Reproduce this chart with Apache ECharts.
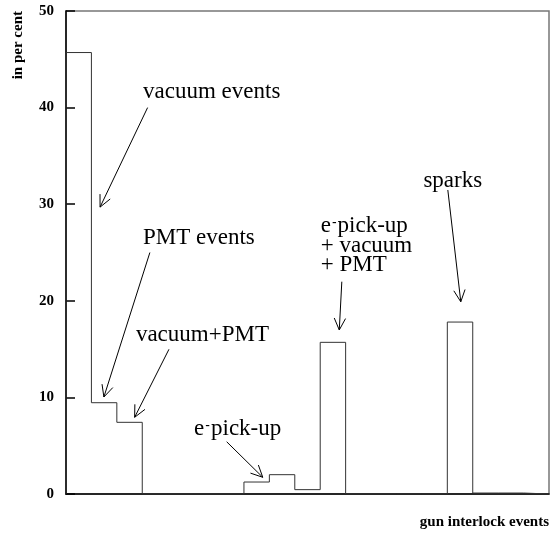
<!DOCTYPE html>
<html>
<head>
<meta charset="utf-8">
<script src="https://cdn.jsdelivr.net/npm/echarts@6/dist/echarts.min.js"></script>
<style>
  html, body { margin: 0; padding: 0; background: #fff; }
  #chart { width: 550px; height: 533px; }
</style>
</head>
<body>
<div id="chart"></div>
<script>
// histogram bins (per cent), one per interlock class
const binValues = [45.7, 9.45, 7.42, 0, 0, 0, 0, 1.24, 2.0, 0.45, 15.7, 0, 0, 0, 0, 17.8, 0.1, 0.1, 0];
const yMax = 50;
const yStep = 10;

// annotations: label, text anchor, arrow tail, arrow tip (data units)
const annLabels = ['vacuum events', 'PMT events', 'vacuum+PMT', 'e{s|-}pick-up', 'e{s|-}pick-up\n+ vacuum\n+ PMT', 'sparks'];
const annTextPos = [[3.03, 41.6], [3.03, 26.5], [2.75, 16.5], [5.04, 6.7], [10.02, 25.7], [14.06, 32.4]];
const annTail = [[3.21, 40.0], [3.30, 25.0], [4.05, 14.98], [6.32, 5.41], [10.85, 21.98], [15.02, 31.47]];
const annTip = [[1.34, 29.7], [1.49, 10.04], [2.70, 7.94], [7.74, 1.73], [10.75, 16.98], [15.53, 19.9]];

const serif = '"Liberation Serif", "DejaVu Serif", serif';

// step outline: start at the base, then one point per bin's left edge
const stepData = [[0, 0]].concat(binValues.map((v, i) => [i, v]));
stepData.push([binValues.length, binValues[binValues.length - 1]]);

const chart = echarts.init(document.getElementById('chart'), null, { renderer: 'canvas' });

chart.setOption({
  animation: false,
  backgroundColor: '#fff',
  grid: { left: 66, right: 1, top: 11, bottom: 39, show: true, borderColor: '#777', borderWidth: 1.5 },
  xAxis: {
    type: 'value', min: 0, max: binValues.length,
    axisLine: { show: true, lineStyle: { color: '#000', width: 1.5 } },
    axisTick: { show: false }, axisLabel: { show: false }, splitLine: { show: false }
  },
  yAxis: {
    type: 'value', min: 0, max: yMax, interval: yStep,
    axisLine: { show: true, lineStyle: { color: '#000', width: 1.5 } },
    axisTick: { show: true, inside: true, length: 9, lineStyle: { color: '#000', width: 1.5 } },
    axisLabel: { color: '#000', fontFamily: serif, fontWeight: 'bold', fontSize: 15, margin: 12 },
    splitLine: { show: false }
  },
  graphic: [
    {
      type: 'text', x: 18, y: 11, rotation: Math.PI / 2,
      style: { text: 'in per cent', font: 'bold 15px ' + serif, fill: '#000', align: 'right', verticalAlign: 'middle' }
    },
    {
      type: 'text', right: 1, top: 515,
      style: { text: 'gun interlock events', font: 'bold 15px ' + serif, fill: '#000' }
    }
  ],
  series: [
    {
      type: 'line', step: 'end', data: stepData, symbol: 'none', silent: true,
      lineStyle: { color: '#333', width: 1 }
    },
    {
      type: 'custom', silent: true, clip: false,
      data: annTip,
      renderItem: (params, api) => {
        const i = params.dataIndex;
        const t = api.coord(annTextPos[i]);
        const a = api.coord(annTail[i]);
        const b = api.coord(annTip[i]);
        const ang = Math.atan2(b[1] - a[1], b[0] - a[0]);
        const L = 13, w = 0.45;
        const p1 = [b[0] - L * Math.cos(ang - w), b[1] - L * Math.sin(ang - w)];
        const p2 = [b[0] - L * Math.cos(ang + w), b[1] - L * Math.sin(ang + w)];
        return {
          type: 'group',
          children: [
            { type: 'line', shape: { x1: a[0], y1: a[1], x2: b[0], y2: b[1] }, style: { stroke: '#000', lineWidth: 1 } },
            { type: 'polyline', shape: { points: [p1, b, p2] }, style: { stroke: '#000', fill: null, lineWidth: 1 } },
            {
              type: 'text', x: t[0], y: t[1],
              style: {
                text: annLabels[i], fill: '#000', fontFamily: serif, fontSize: 23,
                lineHeight: 19.5, align: 'left', verticalAlign: 'middle',
                rich: { s: { fontSize: 14, lineHeight: 8, verticalAlign: 'top', padding: [0, 1, 0, 1] } }
              }
            }
          ]
        };
      }
    }
  ]
});
</script>
</body>
</html>
